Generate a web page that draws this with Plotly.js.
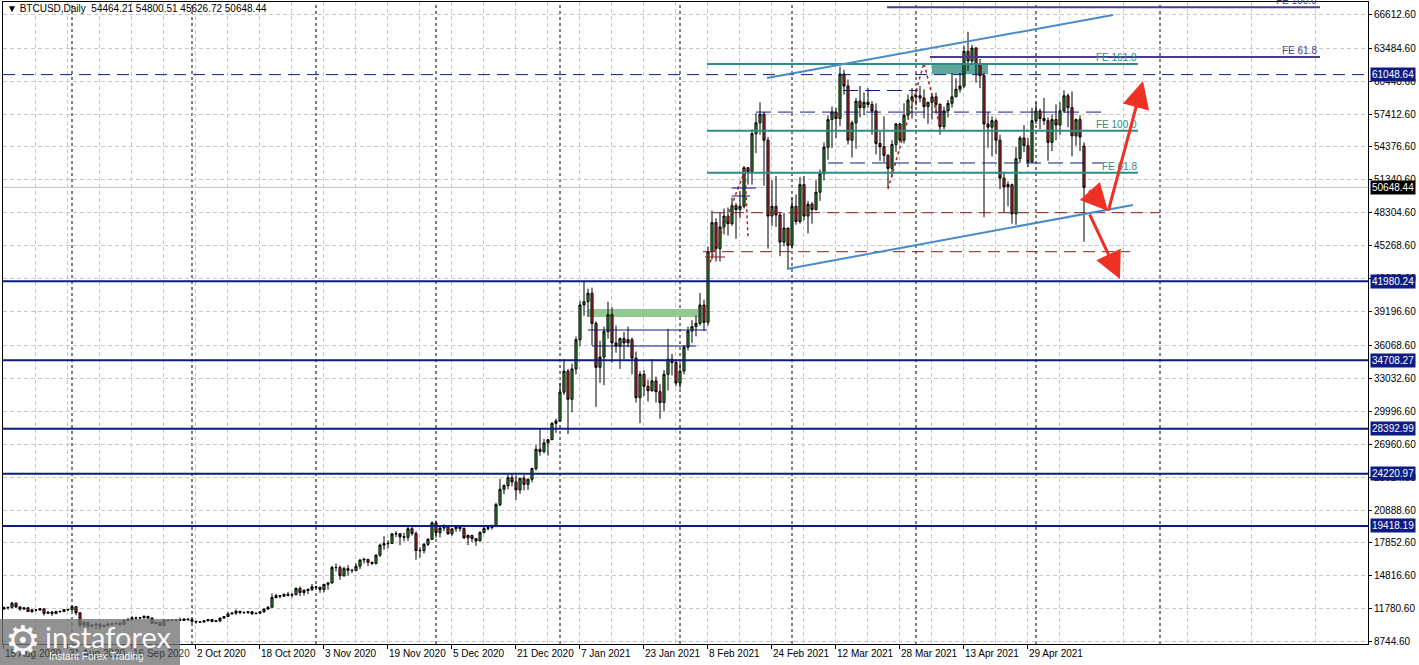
<!DOCTYPE html>
<html><head><meta charset="utf-8">
<script src="https://cdn.plot.ly/plotly-3.0.1.min.js"></script>
<style>html,body{margin:0;padding:0;background:#fff;overflow:hidden}#chart{width:1419px;height:665px}</style>
</head><body><div id="chart"></div>
<script>
// ---------- DATA (daily BTCUSD, bar 0 = 15 Aug 2020) ----------
const opens = [
11760,11865,11912,12300,11950,11750,11870,11520,11680,11660,
11770,11360,11470,11330,11540,11510,11710,11680,11970,11410,
10250,10510,10170,10280,10370,10130,10240,10360,10400,10440,
10330,10680,10790,10950,10940,10930,11080,10920,10420,10530,
10240,10740,10690,10730,10770,10700,10840,10780,10620,10570,
10550,10670,10790,10600,10670,10920,11060,11300,11380,11550,
11430,11430,11500,11320,11370,11500,11750,11920,12820,12990,
12930,13120,13030,13070,13650,13270,13460,13560,13800,13760,
13550,14030,14160,15590,15580,14830,15480,15330,15300,15700,
16280,16330,16070,15950,16720,17650,17780,17810,18680,18710,
18420,18370,19160,18730,17150,17140,17720,18180,19700,18800,
19220,19450,18700,19150,19360,19170,18320,18550,18250,18040,
18800,19170,19270,19440,21380,22800,23140,23870,23480,22740,
23820,23250,23720,24710,26490,26280,27080,27370,28880,29100,
31750,33700,31100,33900,36600,39800,40100,40880,38100,34050,
35000,37340,38900,36300,36000,36700,36300,36600,34900,31250,
33400,32300,31900,32800,31800,30800,33400,34800,34500,32600,
33700,35900,37400,37800,38100,39800,38200,44700,47400,45000,
47000,48000,47300,48960,48600,48900,52460,52100,55600,56600,
57400,55000,48000,48900,48100,45600,46900,45300,48900,47500,
50900,48000,49100,48600,50200,51900,54350,56900,57600,57000,
61100,60000,55000,56600,58600,58000,58500,58300,57700,54700,
54400,53600,52400,54600,56500,55000,57300,58700,59000,59100,
58900,58100,58500,59000,58300,56250,57700,58400,59000,59700,
60000,63200,62300,63500,62000,60950,56500,56200,56800,55000,
51500,50700,50900,48200,53300,55200,54500,53000,56800,57700,
57000,56800,54800,56900,56400,57700,59100,58000,55400,56900,
54464.21];
const highs = [
11980,11935,12400,12335,11990,11880,11890,11690,11710,11810,
11780,11530,11590,11550,11600,11720,11760,12090,11980,11460,
10610,10570,10350,10400,10440,10350,10500,10400,10480,10560,
10800,10940,11100,11040,11030,11170,11090,10990,10580,10540,
10770,10760,10790,10800,10950,10870,10850,10920,10660,10600,
10690,10800,10800,10690,10950,11100,11480,11440,11700,11560,
11550,11550,11540,11400,11520,11800,12010,13200,13170,13020,
13160,13330,13240,13760,13840,13600,13650,14060,13900,13820,
14060,14240,15740,15960,15770,15660,15820,15460,15960,16330,
16490,16330,16120,16800,17800,18480,18110,18780,18950,18720,
18770,19400,19480,18900,17450,17850,18300,19850,19920,19330,
19560,19500,19170,19420,19400,19290,18630,18560,18280,18950,
19400,19330,19550,21560,23770,23250,24170,24300,24100,23820,
24100,23790,24790,26870,28400,27450,27400,28990,29300,32600,
34800,33900,34400,36900,40200,41980,41300,41400,38300,36500,
37800,40100,39600,37900,36800,37300,37800,36800,35500,33700,
33800,32900,34800,33200,32500,33800,37600,35300,34800,34500,
36100,37800,38400,38800,40900,40300,45200,48500,47800,48300,
48700,48800,49700,49200,50300,52600,52500,56000,57500,58500,
57600,55300,51300,51700,48400,48300,46900,49700,50000,51600,
51700,49400,49300,51300,52300,54800,57300,58100,58000,61800,
61500,60600,56800,58900,60000,59400,59800,58600,58400,55800,
57200,53700,55000,56600,56600,58400,59200,59800,59500,60000,
59700,58500,59300,59400,58400,58100,58700,61200,60700,61200,
63700,65000,63800,63600,62500,61200,57600,57200,57000,55500,
52100,51200,51000,54400,55400,56400,55200,58000,58500,57900,
58900,57100,57400,58300,58500,59600,59300,59500,57000,57300,
54800.51];
const lows = [
11690,11690,11805,11830,11580,11680,11490,11380,11530,11600,
11150,11290,11120,11310,11440,11480,11580,11590,11180,10030,
10080,9880,10040,9910,9880,10080,10190,10200,10300,10220,
10300,10630,10680,10750,10820,10900,10820,10370,10360,10150,
10200,10560,10650,10630,10680,10650,10670,10460,10390,10500,
10530,10620,10540,10580,10540,10830,11050,11280,11200,11280,
11290,11300,11220,11290,11350,11400,11690,11900,12720,12740,
12890,12910,12810,13060,12950,12990,13130,13430,13620,13240,
13290,13540,14100,15220,14440,14720,14850,15080,15280,15440,
15950,15700,15800,15870,16570,17220,17350,17760,18380,17650,
18000,18030,18520,16300,16500,16880,17560,18180,18330,18350,
18940,18590,18500,18880,18900,18200,17650,17920,17580,18020,
18730,19000,19070,19300,21230,22350,22800,23060,21820,22380,
22700,22740,23440,24520,25900,26110,25900,27350,28000,29000,
31500,27900,29900,33400,36000,38800,38700,36100,30400,32600,
32400,36700,34500,35400,33900,34800,35900,33400,30800,28900,
31400,30900,31800,30800,29300,30000,31900,33300,32300,32100,
33400,35600,36300,36900,37900,37400,37900,44000,43800,43800,
46300,46200,47100,45900,47800,48700,50900,50900,53800,55500,
50800,45000,47100,47000,44300,45200,43200,45000,47200,47300,
47600,46400,47300,48500,49400,51300,53200,54300,55200,56300,
59200,54600,53400,54200,57100,57300,58000,55500,53700,53100,
53000,50600,51600,53900,54800,54700,57000,57000,58200,58500,
57000,56500,56900,57500,55500,56000,57100,58000,59000,59400,
59800,61400,62000,60300,59800,47900,54300,53500,53700,50500,
48300,48900,47300,47200,52900,53900,52500,52900,56500,56000,
56400,53100,54000,55000,55500,57500,56200,53500,54500,54000,
45626.72];
const closes = [
11865,11912,12300,11950,11750,11870,11520,11680,11660,11770,
11360,11470,11330,11540,11510,11710,11680,11970,11410,10250,
10510,10170,10280,10370,10130,10240,10360,10400,10440,10330,
10680,10790,10950,10940,10930,11080,10920,10420,10530,10240,
10740,10690,10730,10770,10700,10840,10780,10620,10570,10550,
10670,10790,10600,10670,10920,11060,11300,11380,11550,11430,
11430,11500,11320,11370,11500,11750,11920,12820,12990,12930,
13120,13030,13070,13650,13270,13460,13560,13800,13760,13550,
14030,14160,15590,15580,14830,15480,15330,15300,15700,16280,
16330,16070,15950,16720,17650,17780,17810,18680,18710,18420,
18370,19160,18730,17150,17140,17720,18180,19700,18800,19220,
19450,18700,19150,19360,19170,18320,18550,18250,18040,18800,
19170,19270,19440,21380,22800,23140,23870,23480,22740,23820,
23250,23720,24710,26490,26280,27080,27370,28880,29100,31750,
33700,31100,33900,36600,39800,40100,40880,38100,34050,35000,
37340,38900,36300,36000,36700,36300,36600,34900,31250,33400,
32300,31900,32800,31800,30800,33400,34800,34500,32600,33700,
35900,37400,37800,38100,39800,38200,44700,47400,45000,47000,
48000,47300,48960,48600,48900,52460,52100,55600,56600,57400,
55000,48000,48900,48100,45600,46900,45300,48900,47500,50900,
48000,49100,48600,50200,51900,54350,56900,57600,57000,61100,
60000,55000,56600,58600,58000,58500,58300,57700,54700,54400,
53600,52400,54600,56500,55000,57300,58700,59000,59100,58900,
58100,58500,59000,58300,56250,57700,58400,59000,59700,60000,
63200,62300,63500,62000,60950,56500,56200,56800,55000,51500,
50700,50900,48200,53300,55200,54500,53000,56800,57700,57000,
56800,54800,56900,56400,57700,59100,58000,55400,56900,55300,
50648.44];

const dateLabels = ['15 Aug 2020','31 Aug 2020','16 Sep 2020','2 Oct 2020','18 Oct 2020','3 Nov 2020',
  '19 Nov 2020','5 Dec 2020','21 Dec 2020','7 Jan 2021','23 Jan 2021','8 Feb 2021','24 Feb 2021',
  '12 Mar 2021','28 Mar 2021','13 Apr 2021','29 Apr 2021'];
const dateLabelBars = [0,16,32,48,64,80,96,112,128,144,160,176,192,208,224,240,256];
const monthSeparatorBars = [17,47,78,108,139,169,197,228,258,289];
const priceTicks = [8744.60,11780.60,14816.60,17852.60,20888.60,23924.60,26960.60,29996.60,33032.60,
  36068.60,39196.60,42232.60,45268.60,48304.60,51340.60,54376.60,57412.60,60448.60,63484.60,66612.60];

// horizontal support / resistance levels
const levelPrices = [41980.24, 34708.27, 28392.99, 24220.97, 19418.19];
const dashedLevel = 61048.64;
const currentPrice = 50648.44;
const header = 'BTCUSD,Daily  54464.21 54800.51 45626.72 50648.44';

// Fibonacci expansion lines
const feTealNames = ['FE 161.8','FE 100.0','FE 61.8'];
const feTealPrices = [62028, 55876, 51999];
const feTealBars = [175.75, 283.5];
const fePurpleNames = ['FE 100.0','FE 61.8'];
const fePurplePrices = [67258, 62674];
const fePurpleStartBars = [220.75, 231.5];
const fePurpleEndBar = 329;

// channel trend lines
const upperTrendBars = [190.75, 277.25], upperTrendPrices = [60737, 66548];
const lowerTrendBars = [195.75, 282.25], lowerTrendPrices = [43119, 49022];

// zones
const tealZoneBars = [232, 246], tealZonePrices = [61080, 62028];
const greenZoneBars = [146, 173.5], greenZonePrices = [38693, 39431];

// thin navy lines [bar0, bar1, price]
const navySolidLines = [[146,175.75,37492],[147,173,36016],[181.9,188,50590],[181.9,186.5,49852]];
const navyDashLines = [[188,274.75,57593],[209.75,228.5,59584],[206,274.75,52897]];
const redDashLines = [[177.25,289,48312],[174.75,281.5,44715]];
const redSolidLines = [[175.25,180.25,44226]];

// zigzag (dotted)
const zig1Bars = [176,185.25,186], zig1Prices = [43211,52250,45978];
const zig2Bars = [221,230,234], zig2Prices = [50498,62120,56217];

// arrows [tailBar, tailPrice, headBar, headPrice]
const arrows = [[271,50498,276,48469],[276,48377,284.75,60460],[271.25,48285,279,42197]];

// ---------- LAYOUT HELPERS ----------
const W=1419,H=665,ML=3,MR=51,MT=2,MB=21;
const plotW=W-ML-MR, plotH=H-MT-MB;
const pxX = p => (p-ML)/plotW;
const pxY = p => (H-MB-p)/plotH;
const FONT = 'Liberation Sans, Arial, sans-serif';
const NAVY='#0d1b84', TEAL='#2e8b86', PURPLE='#483d8b', BLUE='#4a8ac9', MAROON='#8b1a1a', ARROW='#ee3124';

const bars = opens.map((_, i) => i);
const hi = highs.map((h,i)=>Math.max(h,opens[i],closes[i]));
const lo = lows.map((l,i)=>Math.min(l,opens[i],closes[i]));

const traces = [{
  type:'candlestick', x:bars, open:opens, high:hi, low:lo, close:closes,
  increasing:{line:{color:'#000',width:1}, fillcolor:'#2f9a2f'},
  decreasing:{line:{color:'#000',width:1}, fillcolor:'#c8282d'},
  whiskerwidth:0, hoverinfo:'skip', showlegend:false
},{
  type:'scatter', mode:'lines', x:zig1Bars, y:zig1Prices, line:{color:'#b22222',width:1.5,dash:'dot'}, hoverinfo:'skip', showlegend:false
},{
  type:'scatter', mode:'lines', x:zig2Bars, y:zig2Prices, line:{color:'#b22222',width:1.5,dash:'dot'}, hoverinfo:'skip', showlegend:false
}];

const shapes = [];
monthSeparatorBars.forEach(b => shapes.push({type:'line',xref:'x',yref:'paper',x0:b,x1:b,y0:0,y1:1,
  line:{color:'#000',width:1,dash:'3px,3px'},layer:'between'}));
shapes.push({type:'rect',xref:'x',yref:'y',x0:tealZoneBars[0],x1:tealZoneBars[1],y0:tealZonePrices[0],y1:tealZonePrices[1],
  fillcolor:'#5fa69f',line:{width:0},layer:'between'});
shapes.push({type:'rect',xref:'x',yref:'y',x0:greenZoneBars[0],x1:greenZoneBars[1],y0:greenZonePrices[0],y1:greenZonePrices[1],
  fillcolor:'#92c892',line:{width:0},layer:'between'});
shapes.push({type:'line',xref:'paper',yref:'y',x0:0,x1:1,y0:currentPrice,y1:currentPrice,line:{color:'#c0c0c0',width:1},layer:'between'});
shapes.push({type:'line',xref:'paper',yref:'y',x0:0,x1:1,y0:dashedLevel,y1:dashedLevel,line:{color:NAVY,width:1,dash:'12px,7px'},layer:'above'});
levelPrices.forEach(p => shapes.push({type:'line',xref:'paper',yref:'y',x0:0,x1:1,y0:p,y1:p,line:{color:NAVY,width:2},layer:'above'}));
navySolidLines.forEach(l => shapes.push({type:'line',xref:'x',yref:'y',x0:l[0],x1:l[1],y0:l[2],y1:l[2],line:{color:NAVY,width:1},layer:'above'}));
navyDashLines.forEach(l => shapes.push({type:'line',xref:'x',yref:'y',x0:l[0],x1:l[1],y0:l[2],y1:l[2],line:{color:NAVY,width:1,dash:'15px,7px'},layer:'above'}));
redDashLines.forEach(l => shapes.push({type:'line',xref:'x',yref:'y',x0:l[0],x1:l[1],y0:l[2],y1:l[2],line:{color:MAROON,width:1,dash:'12px,7px'},layer:'above'}));
redSolidLines.forEach(l => shapes.push({type:'line',xref:'x',yref:'y',x0:l[0],x1:l[1],y0:l[2],y1:l[2],line:{color:MAROON,width:1},layer:'above'}));
feTealPrices.forEach(p => shapes.push({type:'line',xref:'x',yref:'y',x0:feTealBars[0],x1:feTealBars[1],y0:p,y1:p,line:{color:TEAL,width:2},layer:'above'}));
fePurplePrices.forEach((p,i) => shapes.push({type:'line',xref:'x',yref:'y',x0:fePurpleStartBars[i],x1:fePurpleEndBar,y0:p,y1:p,line:{color:PURPLE,width:2},layer:'above'}));
shapes.push({type:'line',xref:'x',yref:'y',x0:upperTrendBars[0],x1:upperTrendBars[1],y0:upperTrendPrices[0],y1:upperTrendPrices[1],line:{color:BLUE,width:2},layer:'above'});
shapes.push({type:'line',xref:'x',yref:'y',x0:lowerTrendBars[0],x1:lowerTrendBars[1],y0:lowerTrendPrices[0],y1:lowerTrendPrices[1],line:{color:BLUE,width:2},layer:'above'});
// watermark box
shapes.push({type:'rect',xref:'paper',yref:'paper',x0:pxX(0),x1:pxX(180),y0:pxY(665),y1:pxY(619),fillcolor:'rgba(115,115,115,0.78)',line:{width:0},layer:'above'});

const annotations = [];
annotations.push({xref:'paper',yref:'paper',x:pxX(5),y:pxY(9),xanchor:'left',yanchor:'middle',showarrow:false,
  text:'\u25BC '+header,font:{family:FONT,size:10,color:'#000'}});
dateLabels.forEach((t,i) => annotations.push({xref:'x',yref:'paper',x:dateLabelBars[i]-0.25,y:pxY(654),xanchor:'left',yanchor:'middle',
  showarrow:false,text:t,font:{family:FONT,size:10,color: dateLabelBars[i] < 40 ? '#3a3a3a' : '#000'}}));
function axisBox(p, bg){
  annotations.push({xref:'paper',yref:'y',x:1,xshift:2,y:p,xanchor:'left',yanchor:'middle',showarrow:false,
    text:p.toFixed(2),font:{family:FONT,size:10,color:'#fff'},bgcolor:bg,borderpad:1});
}
axisBox(dashedLevel, NAVY);
axisBox(currentPrice, '#000');
levelPrices.forEach(p => axisBox(p, NAVY));
feTealNames.forEach((t,i) => annotations.push({xref:'x',yref:'y',x:feTealBars[1],y:feTealPrices[i],xanchor:'right',yanchor:'bottom',
  showarrow:false,text:t,font:{family:FONT,size:10,color:TEAL},borderpad:0}));
fePurpleNames.forEach((t,i) => annotations.push({xref:'x',yref:'y',x:fePurpleEndBar-0.5,y:fePurplePrices[i],xanchor:'right',yanchor:'bottom',
  showarrow:false,text:t,font:{family:FONT,size:10,color:PURPLE},borderpad:0}));
arrows.forEach(a => annotations.push({xref:'x',yref:'y',axref:'x',ayref:'y',x:a[2],y:a[3],ax:a[0],ay:a[1],text:'',
  showarrow:true,arrowhead:2,arrowsize:1.8,arrowwidth:3,arrowcolor:ARROW,standoff:0,startstandoff:0}));
// watermark text
annotations.push({xref:'paper',yref:'paper',x:pxX(3),y:pxY(640),xanchor:'left',yanchor:'middle',showarrow:false,
  text:'\u2699',font:{family:'DejaVu Sans',size:40,color:'rgba(255,255,255,0.95)'}});
annotations.push({xref:'paper',yref:'paper',x:pxX(43),y:pxY(636),xanchor:'left',yanchor:'middle',showarrow:false,
  text:'instaforex',font:{family:'Lato, Open Sans, sans-serif',size:29,color:'rgba(255,255,255,0.95)'}});
annotations.push({xref:'paper',yref:'paper',x:pxX(47),y:pxY(656),xanchor:'left',yanchor:'middle',showarrow:false,
  text:'Instant Forex Trading',font:{family:FONT,size:10,color:'rgba(255,255,255,0.95)'}});

const gridStyle = {gridcolor:'#c8c8c8', griddash:'4px,3px', gridwidth:1};
const layout = {
  width:W, height:H, margin:{l:ML,r:MR,t:MT,b:MB,pad:0},
  paper_bgcolor:'#fff', plot_bgcolor:'#fff', showlegend:false, boxgap:0.25,
  xaxis:Object.assign({type:'linear', range:[-0.25, 341], rangeslider:{visible:false},
    tickvals:dateLabelBars.map(b=>b-0.25), showticklabels:false, ticks:'outside', ticklen:4, tickcolor:'#000',
    showgrid:true, zeroline:false, showline:true, mirror:true, linecolor:'#000', linewidth:1, fixedrange:true,
    minor:{tick0:7.75, dtick:16, showgrid:true, gridcolor:'#c8c8c8', griddash:'4px,3px', ticks:''}}, gridStyle),
  yaxis:Object.assign({side:'right', range:[8528, 67747], tickvals:priceTicks, ticktext:priceTicks.map(v=>v.toFixed(2)),
    ticks:'outside', ticklen:3, tickcolor:'#000', tickfont:{family:FONT,size:10,color:'#000'},
    showgrid:true, zeroline:false, showline:true, mirror:true, linecolor:'#000', linewidth:1, fixedrange:true}, gridStyle),
  shapes:shapes, annotations:annotations
};
Plotly.newPlot('chart', traces, layout, {displayModeBar:false, staticPlot:true});
</script></body></html>
